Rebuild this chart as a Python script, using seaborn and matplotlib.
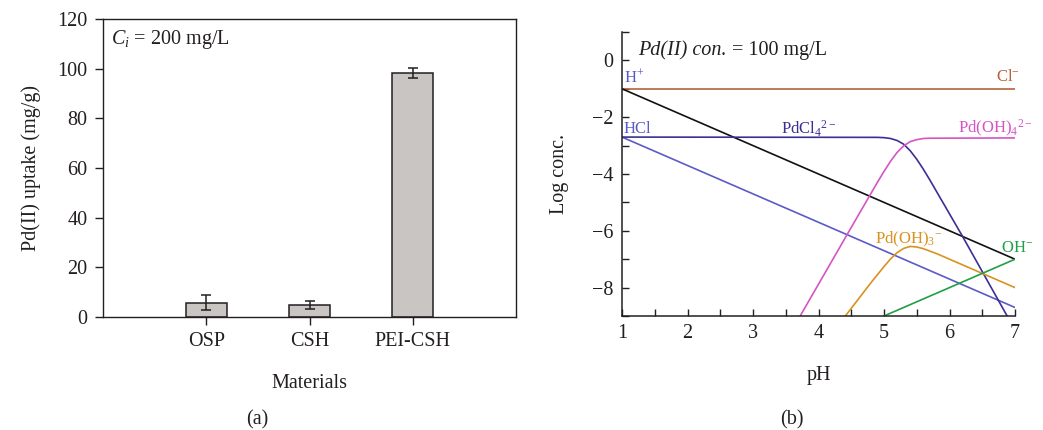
import numpy as np
import pandas as pd
import matplotlib
matplotlib.use("Agg")
import matplotlib.pyplot as plt
import seaborn as sns

# ---------------- data ----------------
materials = ["OSP", "CSH", "PEI-CSH"]
uptake = [5.7, 4.9, 98.2]
uptake_err = [3.0, 1.6, 2.0]

ph_cl = [1.0, 7.0]
log_cl = [-1.0, -1.0]
ph_h = [1.0, 7.0]
log_h = [-1.0, -7.0]
ph_hcl = [1.0, 7.0]
log_hcl = [-2.7, -8.7]
ph_pdcl4 = [1.0, 4.9, 5.0, 5.1, 5.2, 5.3, 5.4, 5.5, 5.6, 5.7, 6.2, 6.88]
log_pdcl4 = [-2.7, -2.71, -2.72, -2.75, -2.82, -2.95, -3.18, -3.48, -3.83, -4.21, -6.2, -9.0]
ph_pdoh4 = [3.72, 4.5, 4.9, 5.0, 5.1, 5.2, 5.3, 5.4, 5.5, 5.6, 5.7, 7.0]
log_pdoh4 = [-9.0, -5.88, -4.29, -3.91, -3.55, -3.24, -3.01, -2.86, -2.79, -2.75, -2.74, -2.73]
ph_pdoh3 = [4.41, 4.8, 5.0, 5.1, 5.2, 5.3, 5.4, 5.5, 5.6, 5.8, 7.0]
log_pdoh3 = [-9.0, -7.83, -7.26, -6.99, -6.77, -6.62, -6.55, -6.57, -6.63, -6.8, -8.0]
ph_oh = [5.0, 7.0]
log_oh = [-9.0, -7.0]

# ---------------- style ----------------
sns.set_style("ticks")
plt.rcParams["font.family"] = ["Liberation Serif", "DejaVu Serif"]
plt.rcParams["mathtext.fontset"] = "custom"
plt.rcParams["mathtext.rm"] = "Liberation Serif"
plt.rcParams["mathtext.it"] = "Liberation Serif:italic"
plt.rcParams["axes.unicode_minus"] = True

TXT = "#231f20"
FS = 14.5

fig = plt.figure(figsize=(10.43, 4.30), dpi=100)
W, H = 1043, 430

def fax(l, t, r, b):
    return fig.add_axes([l / W, 1 - b / H, (r - l) / W, (b - t) / H])

# ---------------- panel (a) ----------------
ax1 = fax(103, 19, 516, 317)
df_a = pd.DataFrame({"Material": materials, "Uptake": uptake})
sns.barplot(data=df_a, x="Material", y="Uptake", ax=ax1, color="#c9c5c3",
            edgecolor=TXT, linewidth=1.1, width=0.4, saturation=1, errorbar=None)
ax1.errorbar(x=np.arange(len(materials)), y=uptake, yerr=uptake_err, fmt="none",
             ecolor=TXT, elinewidth=1.1, capsize=3.5, capthick=1.1)
ax1.set_xlim(-1, 3)
ax1.set_ylim(0, 120)
ax1.set_yticks(range(0, 121, 20))
for s in ax1.spines.values():
    s.set_color(TXT)
    s.set_linewidth(1.0)
ax1.tick_params(direction="out", length=6, width=1.0, colors=TXT, labelsize=FS, pad=5)
ax1.set_xlabel("Materials", fontsize=FS, color=TXT, labelpad=16)
ax1.set_ylabel("Pd(II) uptake (mg/g)", fontsize=FS, color=TXT, labelpad=12)
ax1.text(0.02, 0.93, r"$C_i$ = 200 mg/L", transform=ax1.transAxes, fontsize=FS,
         color=TXT, ha="left", va="center")
fig.text(257 / W, 1 - 420 / H, "(a)", fontsize=FS, color=TXT, ha="center", va="center")

# ---------------- panel (b) ----------------
ax2 = fax(622, 32, 1015, 316)
lines = [
    (ph_cl, log_cl, "#b5623a"),
    (ph_h, log_h, "#111111"),
    (ph_hcl, log_hcl, "#5b5bc8"),
    (ph_pdcl4, log_pdcl4, "#3b2f95"),
    (ph_pdoh4, log_pdoh4, "#d455c4"),
    (ph_pdoh3, log_pdoh3, "#d9921f"),
    (ph_oh, log_oh, "#1fa045"),
]
for xs, ys, c in lines:
    sns.lineplot(x=xs, y=ys, ax=ax2, color=c, linewidth=1.2, sort=False,
                 estimator=None)
ax2.set_xlim(1, 7)
ax2.set_ylim(-9, 1)
ax2.set_xticks(range(1, 8))
ax2.set_xticks(np.arange(1.5, 7, 1.0), minor=True)
ax2.set_yticks([0, -2, -4, -6, -8])
ax2.set_yticks([1, -1, -3, -5, -7, -9], minor=True)
sns.despine(ax=ax2)
for s in ("left", "bottom"):
    ax2.spines[s].set_color(TXT)
    ax2.spines[s].set_linewidth(1.1)
ax2.tick_params(which="both", direction="in", length=5, width=1.0, colors=TXT)
ax2.tick_params(which="major", labelsize=FS, pad=6)
ax2.set_xlabel("pH", fontsize=FS, color=TXT, labelpad=16)
ax2.set_ylabel("Log conc.", fontsize=FS, color=TXT, labelpad=17)
t = ax2.text(1.25, 0.35, "Pd(II) con.", fontsize=FS, color=TXT, style="italic",
             ha="left", va="center")
ax2.annotate(" = 100 mg/L", xy=(1, 0.5), xycoords=t, fontsize=FS, color=TXT,
             ha="left", va="center")

LFS = 12
ax2.text(1.03, -0.6, r"H$^{+}$", color="#5b5bc8", fontsize=LFS, ha="left", va="center")
ax2.text(7.08, -0.6, r"Cl$^{-}$", color="#b5623a", fontsize=LFS, ha="right", va="center",
         clip_on=False)
ax2.text(1.03, -2.4, "HCl", color="#5b5bc8", fontsize=LFS, ha="left", va="center")
ax2.text(3.85, -2.4, r"PdCl$_4$$^{2-}$", color="#3b2f95", fontsize=LFS, ha="center", va="center")
ax2.text(7.27, -2.4, r"Pd(OH)$_4$$^{2-}$", color="#d455c4", fontsize=LFS, ha="right",
         va="center", clip_on=False)
ax2.text(5.38, -6.3, r"Pd(OH)$_3$$^{-}$", color="#d9921f", fontsize=LFS, ha="center", va="center")
ax2.text(7.27, -6.6, r"OH$^{-}$", color="#1fa045", fontsize=LFS, ha="right", va="center",
         clip_on=False)
fig.text(792 / W, 1 - 420 / H, "(b)", fontsize=FS, color=TXT, ha="center", va="center")

fig.savefig("out.png", dpi=100, facecolor="white")
